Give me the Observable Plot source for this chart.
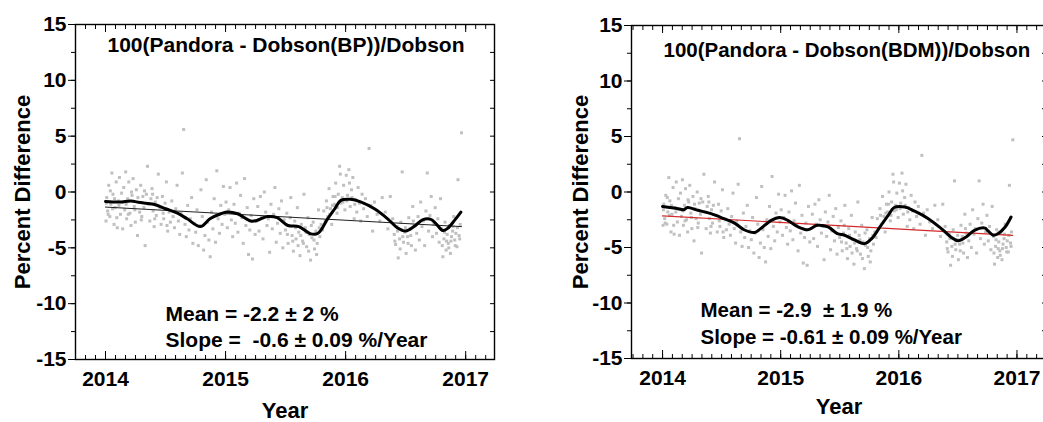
<!DOCTYPE html>
<html>
<head>
<meta charset="utf-8">
<script src="https://cdn.jsdelivr.net/npm/d3@7"></script>
<script src="https://cdn.jsdelivr.net/npm/@observablehq/plot@0.6"></script>
<style>
  html, body { margin: 0; padding: 0; background: #fff; overflow: hidden; }
  #wrap { position: relative; width: 1043px; height: 422px; overflow: hidden; background: #fff; }
  .pane { position: absolute; top: 0; height: 422px; }
  .pane svg { max-width: none !important; }
</style>
</head>
<body>
<div id="wrap">
  <div class="pane" id="left" style="left:0px; width:520px"></div>
  <div class="pane" id="right" style="left:520px; width:545px"></div>
</div>
<script>
// ---------- data ----------
const panelTitles = ["100(Pandora - Dobson(BP))/Dobson", "100(Pandora - Dobson(BDM))/Dobson"];
const meanTexts = ["Mean = -2.2 \u00b1 2 %", "Mean = -2.9  \u00b1 1.9 %"];
const slopeTexts = ["Slope =  -0.6 \u00b1 0.09 %/Year", "Slope = -0.61 \u00b1 0.09 %/Year"];
const yTicks = [-15, -10, -5, 0, 5, 10, 15];
const xTicks = [2014, 2015, 2016, 2017];

const obsYears = [
2014.004,2014.010,2014.018,2014.027,2014.036,2014.044,2014.053,2014.062,2014.071,2014.080,2014.089,2014.098,2014.107,2014.116,2014.125,2014.134,2014.143,2014.152,
2014.160,2014.168,2014.176,2014.185,2014.194,2014.203,2014.212,2014.221,2014.230,2014.239,2014.248,2014.257,2014.266,2014.275,2014.284,2014.293,2014.302,2014.311,2014.320,2014.330,2014.340,2014.350,
2014.360,2014.369,2014.378,2014.387,2014.396,2014.405,2014.414,2014.423,2014.440,2014.452,2014.463,2014.474,2014.485,2014.496,2014.507,2014.518,2014.529,2014.540,
2014.552,2014.563,2014.574,2014.585,2014.596,2014.607,2014.618,2014.629,2014.640,2014.651,2014.662,2014.673,2014.684,2014.695,2014.706,2014.717,2014.728,2014.739,
2014.751,2014.762,2014.773,2014.784,2014.795,2014.806,2014.817,2014.828,2014.839,2014.850,2014.861,2014.872,2014.883,2014.894,2014.905,2014.916,2014.927,2014.938,2014.949,2014.960,2014.971,2014.982,2014.993,
2015.004,2015.015,2015.026,2015.037,2015.048,2015.059,2015.070,2015.081,2015.092,2015.103,2015.114,2015.125,2015.136,2015.147,2015.158,2015.169,2015.180,2015.191,2015.202,2015.213,2015.224,2015.235,2015.246,
2015.257,2015.268,2015.279,2015.290,2015.301,2015.312,2015.323,2015.334,2015.345,2015.356,2015.367,2015.378,2015.389,2015.400,2015.411,2015.422,2015.433,2015.444,2015.455,2015.466,2015.477,2015.488,
2015.499,2015.510,2015.521,2015.532,2015.543,2015.554,2015.565,2015.576,2015.587,2015.598,2015.609,2015.620,2015.631,2015.642,2015.653,2015.664,2015.675,2015.686,2015.697,2015.708,2015.719,2015.730,2015.741,2015.752,2015.763,2015.774,2015.785,2015.796,
2015.807,2015.818,2015.829,2015.840,2015.851,2015.862,2015.873,2015.884,2015.895,2015.906,2015.917,2015.928,2015.939,2015.950,2015.961,2015.972,2015.983,2015.994,
2016.005,2016.016,2016.027,2016.038,2016.049,2016.060,2016.071,2016.082,2016.093,2016.104,2016.115,2016.126,2016.137,
2016.150,2016.165,2016.180,2016.195,2016.210,2016.225,2016.240,2016.262,2016.285,2016.305,2016.330,2016.352,2016.372,2016.392,
2016.405,2016.416,2016.427,2016.438,2016.449,2016.460,2016.471,2016.482,2016.493,2016.504,2016.515,2016.526,2016.537,2016.548,2016.559,2016.570,2016.581,2016.592,
2016.603,2016.614,2016.625,2016.636,2016.647,2016.658,2016.669,2016.680,2016.691,2016.702,2016.713,2016.724,2016.735,2016.746,2016.757,2016.768,2016.779,2016.790,
2016.801,2016.810,2016.819,2016.828,2016.837,2016.846,2016.855,2016.864,2016.873,2016.882,2016.891,2016.900,2016.909,2016.918,2016.927,2016.936,2016.945,2016.954,2016.965,
2014.007,2014.022,2014.040,2014.058,2014.075,2014.094,2014.112,2014.139,2014.172,2014.190,2014.216,2014.244,2014.270,2014.298,2014.325,2014.392,2014.410,2014.430,2014.480,2014.512,
2015.515,2015.538,2015.560,2015.582,2015.604,2015.626,2015.648,2015.670,2015.692,2015.714,2015.736,2015.758,2015.780,
2015.845,2015.868,2015.890,2015.912,2015.934,2015.956,2015.978,2016.010,2016.032,2016.054,2016.076,
2016.410,2016.432,2016.454,2016.476,2016.498,2016.520,2016.542,2016.564,
2016.805,2016.823,2016.841,2016.859,2016.877,2016.895,2016.913,2016.931,2016.950
];

const diffBP = [
-2.6,-0.5,-1.7,0.6,-2.2,-1.1,1.7,-0.2,-2.9,-1.4,0.9,-3.2,-0.8,1.3,-2.0,-0.1,-3.3,0.4,
-1.6,1.8,-2.4,-0.6,0.9,-1.9,-3.0,-0.3,1.2,-1.3,-2.7,0.2,-3.9,-0.9,-1.8,0.6,-2.2,-0.4,-1.4,-4.8,-0.2,2.3,
-1.1,-2.6,-0.6,0.3,-1.7,-3.1,-0.9,-2.1,1.6,-1.4,-2.9,-0.4,-2.4,-1.0,0.9,-3.5,-1.8,-2.7,
-0.8,-2.2,-3.2,-1.5,0.6,-2.6,-3.8,-1.9,1.7,5.6,-2.9,-4.0,-1.2,-3.4,-2.4,-0.5,-4.6,-2.8,
-3.6,-1.6,-4.8,-3.0,0.2,-2.2,-5.2,-3.9,1.1,-2.7,-4.3,-5.8,-1.8,-3.3,-0.6,-4.5,1.9,-2.4,-3.7,-1.2,-2.9,0.5,-2.0,
-0.9,-3.2,-1.6,0.4,-2.5,-4.0,-1.1,-2.8,0.8,-3.6,-1.9,-0.3,-2.3,-4.6,1.2,-3.0,-1.4,-5.6,-3.4,-2.1,-6.0,-0.6,-3.8,
-2.6,-1.3,-3.5,-0.4,-2.2,-4.2,0.0,-1.8,-3.0,-2.4,-5.4,-1.1,-3.3,-2.0,0.4,-4.5,-2.8,-1.5,-3.7,-0.8,-5.0,-2.5,
-3.4,-1.9,-4.6,-3.0,-0.5,-3.9,-5.3,-2.6,-4.2,-1.4,-3.6,-5.7,-2.9,-4.4,-0.2,-3.2,-4.9,-2.3,-3.8,-6.1,-4.1,-2.7,-5.1,-3.5,-4.6,-1.6,-4.0,-2.9,
-3.4,-1.7,-2.6,-0.8,-2.2,0.3,-1.5,-2.9,-0.4,-1.1,0.8,-1.9,-0.2,2.3,-1.0,-0.5,0.6,-1.6,
1.5,-0.3,2.0,-1.3,0.2,1.3,-2.4,-0.7,-1.8,0.4,-1.0,-2.6,-0.2,
-1.5,-0.6,-2.2,3.9,-1.2,-3.5,-0.9,-2.0,-2.6,-0.5,-1.8,-3.3,-0.4,-2.4,
-3.8,-4.7,-3.1,-5.9,-4.2,-2.7,1.8,-4.5,-3.6,-5.5,-4.0,-2.3,-3.3,-4.8,-1.3,-3.0,-5.2,-3.7,
-2.2,-4.3,-0.9,-3.1,-2.6,-4.8,-1.7,1.7,-3.5,-2.1,-0.4,-4.0,-2.9,-1.4,-3.7,-2.4,-4.5,-0.6,
-3.3,-5.8,-4.2,-2.7,-5.2,-3.8,-4.6,-3.0,-5.5,-4.0,-3.5,-2.2,-4.3,-3.7,-4.9,1.1,-3.9,-2.9,5.3,
-1.0,-2.0,0.1,-1.5,-0.6,-2.3,-1.2,-0.9,-1.1,-2.0,0.0,-1.6,-0.5,-2.5,0.1,-0.2,-2.4,-0.5,-1.9,-3.0,
-3.8,-2.3,-4.4,-3.2,-4.8,-3.9,-4.6,-3.6,-5.3,-3.0,-4.3,-5.6,-3.2,
-1.4,-2.0,-1.2,-0.4,-1.4,1.6,-0.9,-0.8,0.8,-0.5,-1.1,
-4.4,-3.5,-5.1,-4.0,-3.2,-4.6,-3.9,-2.6,
-4.8,-3.6,-4.4,-5.0,-4.4,-3.1,-4.8,-3.2,-4.2
];

const diffBDM = [
-3.0,-1.1,-2.4,-0.3,-2.9,-1.8,1.3,-0.8,-3.6,-2.0,0.4,-3.8,-1.4,0.9,-2.7,-0.6,-3.9,-0.1,
-2.2,1.1,-3.0,-1.2,0.3,-2.5,-3.6,-0.9,0.6,-1.9,-3.3,-0.4,-4.4,-1.5,-2.4,0.0,-2.8,-1.0,-2.0,-5.5,-0.9,1.6,
-1.8,-3.3,-1.3,-0.4,-2.4,-3.7,-1.6,-2.8,0.9,-2.1,-3.6,-1.1,-3.1,-1.7,0.2,-4.1,-2.5,-3.4,
-1.5,-2.9,-3.9,-2.2,-0.1,-3.3,-4.6,-2.6,0.7,4.8,-3.6,-4.9,-1.9,-4.1,-3.1,-1.2,-5.0,-3.5,
-4.3,-2.3,-5.5,-3.7,-0.5,-2.9,-5.9,-4.6,0.5,-3.4,-5.0,-6.3,-2.5,-4.0,-1.3,-5.1,1.4,-3.1,-4.4,-1.9,-3.6,-0.2,-2.7,
-1.6,-3.9,-2.3,-0.3,-3.2,-4.7,-1.8,-3.5,0.1,-4.3,-2.6,-1.0,-3.0,-5.3,0.6,-3.7,-2.1,-6.4,-4.1,-2.8,-6.6,-1.3,-4.5,
-3.3,-2.0,-4.2,-1.1,-2.9,-4.9,-0.7,-2.5,-3.7,-3.1,-6.1,-1.8,-4.0,-2.7,-0.3,-5.2,-3.5,-2.2,-4.4,-1.5,-5.6,-3.2,
-4.1,-2.6,-5.3,-3.7,-1.2,-4.6,-6.0,-3.3,-4.9,-2.1,-4.3,-6.5,-3.6,-5.1,-0.9,-3.9,-5.6,-3.0,-4.5,-6.9,-4.8,-3.4,-5.8,-4.2,-5.3,-2.3,-4.7,-3.6,
-4.1,-2.4,-3.3,-1.5,-2.9,-0.4,-2.2,-3.6,-1.1,-1.8,0.0,-2.6,-0.9,1.6,-1.7,-1.2,-0.1,-2.3,
0.8,-1.0,1.7,-2.0,-0.5,0.7,-3.1,-1.4,-2.5,-0.3,-1.7,-3.3,-0.9,
-2.2,-1.3,-2.9,3.3,-1.9,-3.9,-1.6,-2.7,-3.3,-1.2,-2.5,-4.0,-1.1,-3.1,
-4.5,-5.4,-3.8,-6.6,-4.9,-3.4,1.0,-5.2,-4.3,-6.1,-4.7,-3.0,-4.0,-5.5,-2.0,-3.7,-5.9,-4.4,
-2.9,-5.0,-1.6,-3.8,-3.3,-5.5,-2.4,1.0,-4.2,-2.8,-1.1,-4.7,-3.6,-2.1,-4.4,-3.1,-5.2,-1.3,
-4.0,-6.5,-4.9,-3.4,-5.9,-4.5,-5.3,-3.7,-6.1,-4.7,-4.2,-2.9,-5.0,-4.4,-5.4,0.6,-4.6,-3.6,4.7,
-1.6,-2.8,-0.5,-2.1,-1.2,-3.0,-1.8,-1.5,-1.7,-2.6,-0.7,-2.3,-1.1,-3.2,-0.6,-0.9,-3.1,-1.2,-2.6,-3.6,
-4.5,-3.0,-5.1,-3.9,-5.5,-4.6,-5.3,-4.3,-6.0,-3.7,-5.0,-6.3,-3.9,
-2.1,-2.7,-1.9,-1.1,-2.1,0.9,-1.6,-1.5,0.1,-1.2,-1.8,
-5.1,-4.2,-5.8,-4.7,-3.9,-5.3,-4.6,-3.3,
-5.5,-4.3,-5.1,-5.7,-5.1,-3.8,-5.4,-3.9,-4.9
];

const smoothYearsBP = [2014.00,2014.12,2014.21,2014.29,2014.40,2014.50,2014.60,2014.68,2014.79,2014.87,2014.96,2015.01,2015.10,2015.21,2015.26,2015.35,2015.43,2015.52,2015.61,2015.71,2015.77,2015.85,2015.91,2015.96,2016.04,2016.13,2016.24,2016.35,2016.43,2016.50,2016.57,2016.64,2016.71,2016.75,2016.81,2016.85,2016.91,2016.96];
const smoothBP = [-0.85,-0.9,-0.8,-0.95,-1.1,-1.5,-1.9,-2.4,-3.1,-2.4,-1.95,-1.8,-1.95,-2.6,-2.55,-2.2,-2.3,-3.0,-3.1,-3.75,-3.7,-2.4,-1.5,-0.75,-0.65,-0.9,-1.5,-2.4,-3.2,-3.5,-3.1,-2.5,-2.45,-2.8,-3.45,-3.25,-2.5,-1.8];

const smoothYearsBDM = [2014.00,2014.13,2014.18,2014.21,2014.30,2014.41,2014.52,2014.61,2014.69,2014.78,2014.83,2014.92,2014.99,2015.06,2015.14,2015.23,2015.31,2015.40,2015.48,2015.54,2015.62,2015.71,2015.77,2015.84,2015.91,2015.96,2016.05,2016.13,2016.25,2016.36,2016.44,2016.50,2016.57,2016.64,2016.73,2016.75,2016.80,2016.84,2016.90,2016.95];
const smoothBDM = [-1.3,-1.5,-1.6,-1.4,-1.65,-1.95,-2.4,-2.8,-3.4,-3.65,-3.3,-2.55,-2.3,-2.55,-3.1,-3.4,-3.0,-3.15,-3.75,-3.9,-4.3,-4.65,-4.2,-3.15,-2.1,-1.4,-1.35,-1.7,-2.4,-3.3,-4.05,-4.4,-4.05,-3.45,-3.25,-3.45,-3.9,-3.75,-3.15,-2.25];

const fitYears = [2014.0, 2016.965];
const fitBP = [-1.35, -3.1];
const fitBDM = [-2.15, -3.9];

// ---------- drawing ----------
const FONT = "'Liberation Sans', Arial, Helvetica, sans-serif";
const minorY = d3.range(-15, 15.01, 2.5);

function panel(o) {
  const pts = obsYears.map((t, i) => ({t, v: o.values[i]}));
  const smooth = o.sYears.map((t, i) => ({t, v: o.sVals[i]}));
  const fit = fitYears.map((t, i) => ({t, v: o.fit[i]}));
  const minorX = d3.range(Math.ceil(o.xDomain[0] * 12) / 12, o.xDomain[1], 1 / 12);
  const tickFont = {fontSize: 21, fontWeight: "bold"};
  const big = {fontSize: o.textSize, fontWeight: "bold"};
  return Plot.plot({
    width: o.width, height: 422,
    marginLeft: o.ml, marginRight: o.mr, marginTop: o.mt, marginBottom: o.mb,
    style: {fontFamily: FONT, fontSize: "20px", color: "#000", background: "#fff", overflow: "visible"},
    x: {domain: o.xDomain, axis: null},
    y: {domain: [-15, 15], axis: null},
    marks: [
      Plot.dot(pts, {x: "t", y: "v", symbol: "square", r: 1.7, fill: "#c0c0c0", stroke: null}),
      Plot.line(fit, {x: "t", y: "v", stroke: o.fitColor, strokeWidth: o.fitWidth}),
      Plot.line(smooth, {x: "t", y: "v", stroke: "#000", strokeWidth: 3, curve: "catmull-rom"}),
      Plot.frame({stroke: "#000", strokeWidth: 1.4}),
      Plot.axisY(yTicks, {anchor: "left", tickSize: 7, tickPadding: 2, tickFormat: d => String(d), label: null, ...tickFont}),
      Plot.axisY(minorY, {anchor: "left", tickSize: 4, tickFormat: () => "", label: null}),
      Plot.axisY(minorY, {anchor: "right", tickSize: -5, tickFormat: () => "", label: null}),
      Plot.axisX(xTicks, {anchor: "bottom", tickSize: -8, tickPadding: 20, tickFormat: d => String(d), label: null, ...tickFont}),
      Plot.axisX(minorX, {anchor: "bottom", tickSize: -4, tickFormat: () => "", label: null}),
      Plot.axisX(minorX, {anchor: "top", tickSize: -4, tickFormat: () => "", label: null}),
      Plot.axisX(xTicks, {anchor: "top", tickSize: -7, tickFormat: () => "", label: null}),
      Plot.text([o.title], {frameAnchor: "top-left", dx: o.titleDx, dy: o.titleDy, textAnchor: "start", lineAnchor: "middle", ...big}),
      Plot.text([o.mean], {frameAnchor: "top-left", dx: o.statDx, dy: o.meanDy, textAnchor: "start", lineAnchor: "middle", ...big}),
      Plot.text([o.slope], {frameAnchor: "top-left", dx: o.statDx, dy: o.slopeDy, textAnchor: "start", lineAnchor: "middle", ...big}),
      Plot.text(["Percent Difference"], {frameAnchor: "left", dx: o.ylabDx, rotate: -90, textAnchor: "middle", lineAnchor: "middle", fontSize: 22, fontWeight: "bold"}),
      Plot.text(["Year"], {frameAnchor: "bottom", dy: o.xlabDy, textAnchor: "middle", lineAnchor: "middle", fontSize: 22, fontWeight: "bold"})
    ]
  });
}

document.getElementById("left").appendChild(panel({
  width: 520, ml: 75, mr: 26, mt: 24, mb: 63,
  xDomain: [2013.75, 2017.24],
  values: diffBP, sYears: smoothYearsBP, sVals: smoothBP, fit: fitBP,
  fitColor: "#222", fitWidth: 1, textSize: 21,
  title: panelTitles[0], titleDx: 32, titleDy: 21,
  mean: meanTexts[0], slope: slopeTexts[0], statDx: 90, meanDy: 290, slopeDy: 316,
  ylabDx: -53, xlabDy: 51
}));

document.getElementById("right").appendChild(panel({
  width: 545, ml: 111, mr: 19, mt: 25, mb: 64,
  xDomain: [2013.737, 2017.25],
  values: diffBDM, sYears: smoothYearsBDM, sVals: smoothBDM, fit: fitBDM,
  fitColor: "#d42a2a", fitWidth: 1.2, textSize: 20.5,
  title: panelTitles[1], titleDx: 32, titleDy: 25,
  mean: meanTexts[1], slope: slopeTexts[1], statDx: 69, meanDy: 285, slopeDy: 312,
  ylabDx: -51, xlabDy: 48
}));
</script>
</body>
</html>
